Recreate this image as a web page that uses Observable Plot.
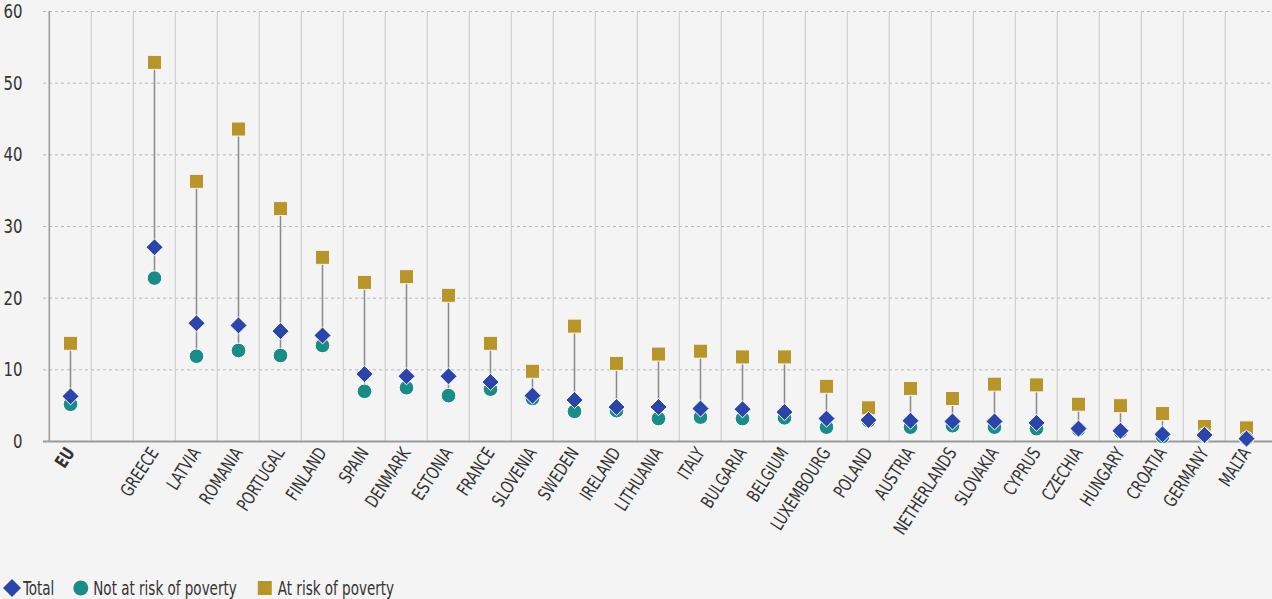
<!DOCTYPE html>
<html>
<head>
<meta charset="utf-8">
<script src="https://cdn.jsdelivr.net/npm/d3@7"></script>
<script src="https://cdn.jsdelivr.net/npm/@observablehq/plot@0.6"></script>
<style>
  html, body { margin: 0; padding: 0; background: #f4f4f4; }
  body { width: 1272px; height: 599px; overflow: hidden; font-family: "DejaVu Sans Condensed", "Liberation Sans Narrow", sans-serif; font-stretch: condensed; color: #333; }
  #chart svg text, #legend text { font-stretch: condensed; }
  #legend { display: block; }
</style>
</head>
<body>
<div id="chart"></div>
<svg id="legend" width="1272" height="21"></svg>
<script>
const countries = ["EU", "GREECE", "LATVIA", "ROMANIA", "PORTUGAL", "FINLAND", "SPAIN", "DENMARK", "ESTONIA", "FRANCE", "SLOVENIA", "SWEDEN", "IRELAND", "LITHUANIA", "ITALY", "BULGARIA", "BELGIUM", "LUXEMBOURG", "POLAND", "AUSTRIA", "NETHERLANDS", "SLOVAKIA", "CYPRUS", "CZECHIA", "HUNGARY", "CROATIA", "GERMANY", "MALTA"];
const total      = [6.3, 27.1, 16.5, 16.2, 15.4, 14.8, 9.4, 9.1, 9.1, 8.3, 6.4, 5.8, 4.8, 4.8, 4.6, 4.5, 4.1, 3.2, 3.0, 2.9, 2.8, 2.8, 2.6, 1.8, 1.5, 1.0, 0.9, 0.4];
const notAtRisk  = [5.2, 22.8, 11.9, 12.7, 12.0, 13.4, 7.0, 7.5, 6.4, 7.3, 6.0, 4.2, 4.3, 3.2, 3.4, 3.2, 3.3, 2.0, 2.9, 2.0, 2.2, 2.0, 1.8, 1.7, 1.4, 0.7, 0.9, 0.4];
const atRisk     = [13.7, 52.9, 36.3, 43.6, 32.5, 25.7, 22.2, 23.0, 20.4, 13.7, 9.8, 16.1, 10.9, 12.2, 12.6, 11.8, 11.8, 7.7, 4.7, 7.4, 6.0, 8.0, 7.9, 5.2, 5.0, 3.9, 2.1, 1.9];
const yTicks = [0, 10, 20, 30, 40, 50, 60];
const seriesNames = ["Total", "Not at risk of poverty", "At risk of poverty"];
const colors = {total: "#2b45a9", not: "#1b8b87", at: "#b8952a"};

const data = countries.map((c, i) => ({country: c, total: total[i], not: notAtRisk[i], at: atRisk[i]}));
const domain = [countries[0], " ", ...countries.slice(1)];

const W = 1272, H = 578, mL = 43, mR = 0, mT = 11, mB = 137;
const bw = (W - mL - mR) / domain.length;
const font = "DejaVu Sans Condensed, Liberation Sans Narrow, sans-serif";

const plot = Plot.plot({
  width: W, height: H,
  marginLeft: mL, marginRight: mR, marginTop: mT, marginBottom: mB,
  style: {background: "#f4f4f4", fontFamily: font, color: "#333"},
  x: {type: "band", domain, padding: 0},
  y: {domain: [0, 60], ticks: yTicks},
  marks: [
    Plot.ruleY(yTicks.filter(d => d > 0), {stroke: "#b5b5b5", strokeDasharray: "3,3", strokeWidth: 1}),
    Plot.ruleX(domain.slice(1), {x: d => d, dx: -bw / 2, stroke: "#cfcfcf", strokeWidth: 1.2}),
    Plot.ruleX([domain[0]], {dx: -bw / 2, stroke: "#9a9a9a", strokeWidth: 1.5}),
    Plot.ruleY([0], {stroke: "#9a9a9a", strokeWidth: 2}),
    Plot.axisY(yTicks, {className: "ylab", tickSize: 0, tickPadding: 21, fontSize: 20, fill: "#333"}),
    Plot.axisX([countries[0]], {className: "xlab", tickSize: 0, tickPadding: 8, tickRotate: -57, fontSize: 18, fontWeight: "bold", fill: "#333", label: null}),
    Plot.axisX(countries.slice(1), {className: "xlab", tickSize: 0, tickPadding: 8, tickRotate: -57, fontSize: 18, fill: "#333", label: null}),
    Plot.ruleX(data, {x: "country", y1: "not", y2: "at", stroke: "#8a8a8a", strokeWidth: 1.5}),
    Plot.dot(data, {x: "country", y: "at", symbol: "square", r: 7.9, fill: colors.at, stroke: "#f4f4f4", strokeWidth: 1}),
    Plot.dot(data, {x: "country", y: "not", symbol: "circle", r: 7.3, fill: colors.not, stroke: "#ffffff", strokeWidth: 1}),
    Plot.dot(data, {x: "country", y: "total", symbol: "diamond2", r: 7.7, fill: colors.total, stroke: "#ffffff", strokeWidth: 1})
  ]
});
document.getElementById("chart").appendChild(plot);

// condense glyphs to mimic a condensed typeface
function condense(sel, k) {
  plot.querySelectorAll(sel).forEach(t => {
    const L = t.getComputedTextLength();
    if (L > 0) { t.setAttribute("textLength", (L * k).toFixed(1)); t.setAttribute("lengthAdjust", "spacingAndGlyphs"); }
  });
}
condense(".ylab text", 0.83);
condense(".xlab text", 0.82);

// Legend
const lg = d3.select("#legend");
const cy = 10;
let x = 3;
const gapAfter = [19, 21];
seriesNames.forEach((name, i) => {
  if (i === 0) {
    lg.append("path").attr("d", `M${x + 9} ${cy - 9} L${x + 18} ${cy} L${x + 9} ${cy + 9} L${x} ${cy} Z`).attr("fill", colors.total);
    x += 20;
  } else if (i === 1) {
    lg.append("circle").attr("cx", x + 7.5).attr("cy", cy).attr("r", 7.5).attr("fill", colors.not);
    x += 20;
  } else {
    lg.append("rect").attr("x", x).attr("y", cy - 7).attr("width", 14).attr("height", 14).attr("fill", colors.at);
    x += 20;
  }
  const t = lg.append("text").attr("x", x).attr("y", cy + 6.5).attr("font-size", 19).attr("fill", "#333")
    .attr("font-family", font).text(name);
  const L = t.node().getComputedTextLength() * 0.79;
  t.attr("textLength", L.toFixed(1)).attr("lengthAdjust", "spacingAndGlyphs");
  x += L + (gapAfter[i] || 0);
});
</script>
</body>
</html>
